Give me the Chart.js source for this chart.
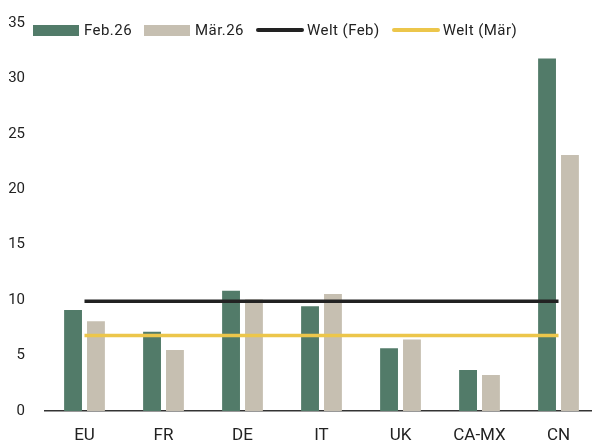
<!DOCTYPE html>
<html>
<head>
<meta charset="utf-8">
<script src="https://cdn.jsdelivr.net/npm/chart.js@4"></script>
<style>
  html, body { margin: 0; padding: 0; background: #fff; overflow: hidden; }
  #wrap { position: relative; width: 598px; height: 442px; }
  #legende {
    position: absolute; left: 33px; top: 21px; display: flex; align-items: center;
    font-family: Roboto, "DejaVu Sans", sans-serif; font-size: 15px; color: #222;
    letter-spacing: 0.45px;
  }
  .item { display: flex; align-items: center; margin-right: 12px; }
  .box { width: 46px; height: 11px; margin-right: 5px; }
  .strich { width: 48px; height: 4px; border-radius: 2px; margin-right: 3px; }
</style>
</head>
<body>
<div id="wrap">
  <canvas id="grafik" width="598" height="442"></canvas>
  <div id="legende"></div>
</div>
<script>
// Daten
const laender = ["EU", "FR", "DE", "IT", "UK", "CA-MX", "CN"];
const feb26 = [9.1, 7.15, 10.85, 9.45, 5.65, 3.7, 31.8];
const maer26 = [8.1, 5.5, 10.05, 10.55, 6.45, 3.25, 23.1];
const weltFeb = [9.9, 9.9, 9.9, 9.9, 9.9, 9.9, 9.9];
const weltMaer = [6.8, 6.8, 6.8, 6.8, 6.8, 6.8, 6.8];
const yTicks = [0, 5, 10, 15, 20, 25, 30, 35];

const gruen = "#527B69";
const beige = "#C6BFB1";
const schwarz = "#222222";
const gelb = "#ECC64B";

const schrift = { family: "Roboto, 'DejaVu Sans', sans-serif", size: 15 };

const ctx = document.getElementById("grafik").getContext("2d");
const grafik = new Chart(ctx, {
    data: {
        labels: laender,
        datasets: [
            { type: "line", label: "Welt (Feb)", data: weltFeb, borderColor: schwarz, borderWidth: 3.5, pointRadius: 0, order: 0 },
            { type: "line", label: "Welt (Mär)", data: weltMaer, borderColor: gelb, borderWidth: 3.5, pointRadius: 0, order: 0 },
            { type: "bar", label: "Feb.26", data: feb26, backgroundColor: gruen, categoryPercentage: 0.58, barPercentage: 0.78, order: 1 },
            { type: "bar", label: "Mär.26", data: maer26, backgroundColor: beige, categoryPercentage: 0.58, barPercentage: 0.78, order: 1 }
        ]
    },
    options: {
        responsive: false,
        animation: false,
        layout: { padding: { left: 8, top: 23, right: 0, bottom: 0 } },
        plugins: { legend: { display: false }, tooltip: { enabled: false } },
        scales: {
            x: {
                grid: { display: false, drawTicks: false },
                border: { display: true, color: "#333", width: 1.5 },
                ticks: { color: "#222", font: { family: schrift.family, size: 17 }, padding: 15 },
                afterFit: function (achse) { achse.height = 31; }
            },
            y: {
                min: 0, max: 35,
                afterBuildTicks: function (achse) { achse.ticks = yTicks.map(v => ({ value: v })); },
                grid: { display: false, drawTicks: false },
                border: { display: false },
                ticks: { color: "#222", font: schrift, padding: 20 },
                afterFit: function (achse) { achse.width = 37; achse.paddingTop = 0; }
            }
        }
    }
});

// Legende als HTML
const legende = document.getElementById("legende");
[["Feb.26", gruen, "box"], ["Mär.26", beige, "box"], ["Welt (Feb)", schwarz, "strich"], ["Welt (Mär)", gelb, "strich"]].forEach(function (e) {
    const item = document.createElement("div");
    item.className = "item";
    const m = document.createElement("span");
    m.className = e[2];
    m.style.background = e[1];
    item.appendChild(m);
    item.appendChild(document.createTextNode(e[0]));
    legende.appendChild(item);
});
</script>
</body>
</html>
